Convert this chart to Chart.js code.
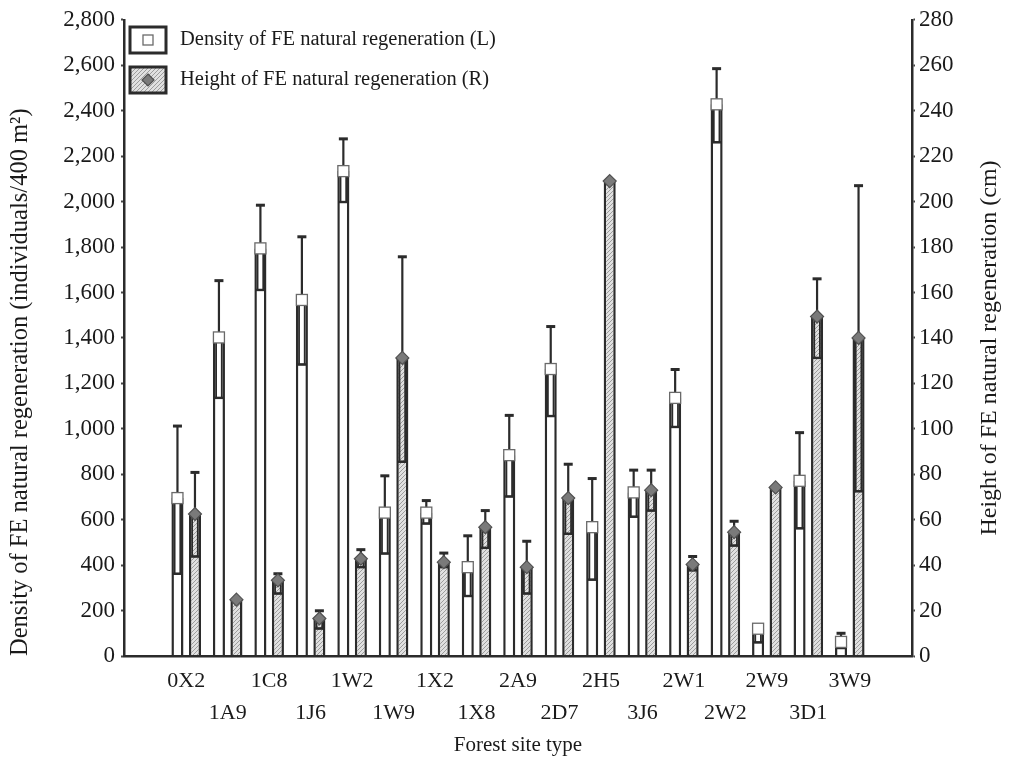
<!DOCTYPE html>
<html>
<head>
<meta charset="utf-8">
<script src="https://cdn.jsdelivr.net/npm/chart.js@4.4.1/dist/chart.umd.min.js"></script>
<style>
html,body{margin:0;padding:0;background:#fff;}
#wrap{width:1012px;height:760px;}
</style>
</head>
<body>
<div id="wrap"><canvas id="c" width="1012" height="760"></canvas></div>
<script>
// ---------------- data ----------------
const categories = ['0X2','1A9','1C8','1J6','1W2','1W9','1X2','1X8','2A9','2D7','2H5','3J6','2W1','2W2','2W9','3D1','3W9'];

const densityMean  = [695, 1402, 1794, 1567, 2134, 631, 631, 391, 884, 1263, 567, 720, 1136, 2428, 120, 771, 62];
const densityUpper = [1012, 1652, 1984, 1845, 2276, 793, 684, 529, 1059, 1450, 781, 818, 1261, 2585, 120, 983, 100];
const densityLower = [362, 1136, 1611, 1283, 1998, 451, 583, 264, 702, 1056, 336, 613, 1008, 2261, 60, 562, 35];

const heightMean  = [62.5, 24.8, 33.3, 16.5, 42.8, 131.2, 41.3, 56.7, 39.1, 69.5, 209, 73.0, 40.3, 54.5, 74.2, 149.4, 140];
const heightUpper = [80.8, 24.8, 36.2, 19.9, 46.8, 175.7, 45.3, 64.0, 50.5, 84.4, 209, 81.8, 43.8, 59.3, 74.2, 166, 207];
const heightLower = [43.8, 24.8, 27.5, 12.1, 39.1, 85.5, 39.1, 47.6, 27.5, 53.8, 209, 64.0, 37.7, 48.6, 74.2, 131.2, 72.5];

const densityTicks = [0, 200, 400, 600, 800, 1000, 1200, 1400, 1600, 1800, 2000, 2200, 2400, 2600, 2800];
const heightTicks  = [0, 20, 40, 60, 80, 100, 120, 140, 160, 180, 200, 220, 240, 260, 280];

const legendLabels = ['Density of FE natural regeneration (L)', 'Height of FE natural regeneration (R)'];
const leftTitle  = 'Density of FE natural regeneration (individuals/400 m\u00B2)';
const rightTitle = 'Height of FE natural regeneration (cm)';
const xTitle     = 'Forest site type';

// ---------------- styling helpers ----------------
const FONT = "'Liberation Serif', 'Times New Roman', serif";
const INK = '#1a1a1a';
const LINE = '#2b2b2b';

function makeHatch() {
  const s = 4;
  const cv = document.createElement('canvas');
  cv.width = s; cv.height = s;
  const g = cv.getContext('2d');
  g.fillStyle = '#e0e0e0';
  g.fillRect(0, 0, s, s);
  g.strokeStyle = '#9c9c9c';
  g.lineWidth = 1;
  g.beginPath();
  g.moveTo(0, s); g.lineTo(s, 0);
  g.moveTo(-1, 1); g.lineTo(1, -1);
  g.moveTo(s - 1, s + 1); g.lineTo(s + 1, s - 1);
  g.stroke();
  return g.createPattern(cv, 'repeat');
}
const ctx = document.getElementById('c').getContext('2d');
const hatch = makeHatch();

const labels = [''].concat(categories, ['']);
const pad = arr => [null].concat(arr, [null]);

function drawSquare(c, x, y, size) {
  c.fillStyle = '#ffffff';
  c.strokeStyle = '#6a6a6a';
  c.lineWidth = 1.3;
  c.fillRect(x - size / 2, y - size / 2, size, size);
  c.strokeRect(x - size / 2, y - size / 2, size, size);
}
function drawDiamond(c, x, y, r) {
  c.beginPath();
  c.moveTo(x, y - r); c.lineTo(x + r, y); c.lineTo(x, y + r); c.lineTo(x - r, y); c.closePath();
  c.fillStyle = '#7a7a7a';
  c.fill();
  c.strokeStyle = '#505050';
  c.lineWidth = 1.2;
  c.stroke();
}

const errPlugin = {
  id: 'errbars',
  afterDatasetsDraw(chart) {
    const c = chart.ctx;
    const sets = [
      { meta: chart.getDatasetMeta(0), scale: chart.scales.yL, mean: densityMean, up: densityUpper, lo: densityLower, kind: 'sq' },
      { meta: chart.getDatasetMeta(1), scale: chart.scales.yR, mean: heightMean, up: heightUpper, lo: heightLower, kind: 'di' }
    ];
    c.save();
    sets.forEach(s => {
      s.mean.forEach((m, i) => {
        const bar = s.meta.data[i + 1];
        if (!bar) return;
        const x = bar.x, w = bar.width;
        const ym = s.scale.getPixelForValue(m);
        const yu = s.scale.getPixelForValue(s.up[i]);
        const yl = s.scale.getPixelForValue(s.lo[i]);
        c.strokeStyle = LINE;
        if (s.lo[i] < m) {
          c.lineWidth = 1.8;
          c.strokeRect(x - w / 2 + 3.2, ym, w - 6.4, yl - ym);
          c.lineWidth = 2.4;
          c.beginPath();
          c.moveTo(x - w / 2 + 1, yl); c.lineTo(x + w / 2 - 1, yl);
          c.stroke();
        }
        if (s.up[i] > m) {
          c.lineWidth = 2.2;
          c.beginPath();
          c.moveTo(x, ym); c.lineTo(x, yu);
          c.stroke();
          c.lineWidth = 3;
          c.beginPath();
          c.moveTo(x - 4.5, yu); c.lineTo(x + 4.5, yu);
          c.stroke();
        }
      });
    });
    sets.forEach(s => {
      s.mean.forEach((m, i) => {
        const bar = s.meta.data[i + 1];
        if (!bar) return;
        const ym = s.scale.getPixelForValue(m);
        if (s.kind === 'sq') drawSquare(c, bar.x, ym, 11);
        else drawDiamond(c, bar.x, ym, 6.5);
      });
    });
    c.restore();
  },
  afterDraw(chart) {
    const c = chart.ctx;
    c.save();
    // legend
    const bx = 130, bw = 36, bh = 26;
    const rows = [40, 80];
    rows.forEach((cy, k) => {
      c.fillStyle = k === 0 ? '#ffffff' : hatch;
      c.fillRect(bx, cy - bh / 2, bw, bh);
      c.strokeStyle = LINE;
      c.lineWidth = 3;
      c.strokeRect(bx, cy - bh / 2, bw, bh);
      if (k === 0) drawSquare(c, bx + bw / 2, cy, 10);
      else drawDiamond(c, bx + bw / 2, cy, 6);
      c.fillStyle = INK;
      c.font = '20.5px ' + FONT;
      c.textAlign = 'left';
      c.textBaseline = 'middle';
      c.fillText(legendLabels[k], 180, cy);
    });
    // right axis title (reads bottom to top)
    c.translate(990, 348);
    c.rotate(-Math.PI / 2);
    c.fillStyle = INK;
    c.font = '24px ' + FONT;
    c.textAlign = 'center';
    c.textBaseline = 'middle';
    c.fillText(rightTitle, 0, 0);
    c.restore();
  }
};

new Chart(ctx, {
  type: 'bar',
  data: {
    labels: labels,
    datasets: [
      {
        label: legendLabels[0],
        data: pad(densityMean),
        yAxisID: 'yL',
        backgroundColor: '#ffffff',
        borderColor: LINE,
        borderWidth: 2.5,
        barPercentage: 0.69,
        categoryPercentage: 0.844
      },
      {
        label: legendLabels[1],
        data: pad(heightMean),
        yAxisID: 'yR',
        backgroundColor: hatch,
        borderColor: LINE,
        borderWidth: 2.5,
        barPercentage: 0.69,
        categoryPercentage: 0.844
      }
    ]
  },
  options: {
    responsive: false,
    animation: false,
    events: [],
    layout: { padding: { top: 17, left: 0, right: 0, bottom: 0 } },
    plugins: { legend: { display: false }, tooltip: { enabled: false } },
    scales: {
      x: {
        type: 'category',
        offset: true,
        grid: { display: false, drawTicks: false },
        border: { display: true, color: LINE, width: 2.5, z: 1 },
        ticks: {
          autoSkip: false, maxRotation: 0, minRotation: 0, padding: 9, color: INK,
          font: { family: FONT, size: 22, lineHeight: 32 / 22 },
          callback: function (v, i) {
            const t = labels[i];
            if (!t) return '';
            return ((i - 1) % 2 === 0) ? t : ['', t];
          }
        },
        title: { display: true, text: xTitle, color: INK, font: { family: FONT, size: 21 }, padding: { top: 0, bottom: 2 } },
        afterFit: s => { s.height = 104; }
      },
      yL: {
        type: 'linear',
        position: 'left',
        min: 0, max: 2800,
        afterBuildTicks: s => { s.ticks = densityTicks.map(v => ({ value: v })); },
        grid: { drawOnChartArea: false, drawTicks: true, tickLength: 3, tickWidth: 2, tickColor: '#444' },
        border: { display: true, color: LINE, width: 2.5 },
        ticks: { padding: 6, color: INK, font: { family: FONT, size: 23 }, callback: v => Number(v).toLocaleString('en-US') },
        title: { display: true, text: leftTitle, align: 'start', color: INK, font: { family: FONT, size: 24.5 }, padding: { top: 6, bottom: 0 } },
        afterFit: s => { s.width = 124; }
      },
      yR: {
        type: 'linear',
        position: 'right',
        min: 0, max: 280,
        afterBuildTicks: s => { s.ticks = heightTicks.map(v => ({ value: v })); },
        grid: { drawOnChartArea: false, drawTicks: true, tickLength: 3, tickWidth: 2, tickColor: '#444' },
        border: { display: true, color: LINE, width: 2.5 },
        ticks: { padding: 4, color: INK, font: { family: FONT, size: 23 }, callback: v => String(v) },
        afterFit: s => { s.width = 100; }
      }
    }
  },
  plugins: [errPlugin]
});
</script>
</body>
</html>
